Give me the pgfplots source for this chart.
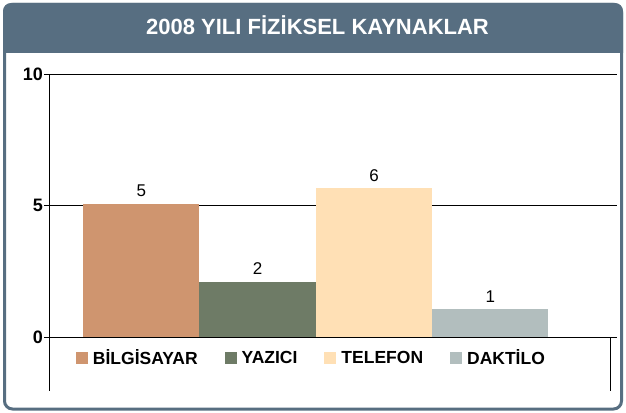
\documentclass[border=0pt]{standalone}
\usepackage{fontspec}
\setmainfont{Liberation Sans}
\usepackage{pgfplots}
\pgfplotsset{compat=1.18}
\definecolor{frame}{RGB}{87,110,129}
\definecolor{bilg}{RGB}{207,149,111}
\definecolor{yaz}{RGB}{110,123,102}
\definecolor{tel}{RGB}{255,224,181}
\definecolor{dak}{RGB}{178,190,190}
\pgfplotsset{sq legend/.style={legend image code/.code={\path[##1] (0pt,-6pt) rectangle (12pt,6pt);}}}
\begin{document}
\begin{tikzpicture}
\useasboundingbox (0pt,0pt) rectangle (626pt,-412pt);
% header band and frame
\fill[frame] (3pt,-53pt) [rounded corners=8pt] -- (3pt,-3pt) -- (623pt,-3pt) [sharp corners] -- (623pt,-53pt) -- cycle;
\draw[frame, line width=3pt, rounded corners=8pt] (4.5pt,-4.5pt) rectangle (621.5pt,-409pt);
\node[white, font=\bfseries\fontsize{22}{22}\selectfont] at (317.5pt,-25pt) {2008 YILI FİZİKSEL KAYNAKLAR};

\begin{axis}[
  at={(49pt,-337pt)}, anchor=south west,
  scale only axis, width=568pt, height=263pt,
  xmin=0, xmax=568, ymin=0, ymax=10,
  clip=false,
  axis line style={draw=none},
  xtick=\empty, ytick={0,5,10}, ytick pos=left,
  tick align=outside, major tick length=5pt,
  ytick style={black, line width=0.8pt},
  yticklabel style={font=\bfseries\fontsize{18}{18}\selectfont, inner sep=1pt},
  /pgf/number format/assume math mode=true,
  ymajorgrids, grid style={black, line width=0.9pt},
  ybar, bar width=116.3pt, bar shift=0pt,
  point meta=explicit symbolic,
  nodes near coords,
  every node near coord/.append style={font=\fontsize{17}{17}\selectfont, black, anchor=south, inner sep=0pt, yshift=7pt},
  legend columns=4,
  legend cell align=left,
  legend style={at={(axis cs:27,-0.8)}, anchor=west, draw=none, fill=none,
    inner sep=0pt, outer sep=0pt, nodes={inner sep=0pt},
    font=\bfseries\fontsize{17.5}{17.5}\selectfont,
    /tikz/every odd column/.append style={column sep=5pt},
    /tikz/every even column/.append style={column sep=27pt}},
]
\addplot[fill=bilg, draw=none, sq legend] coordinates {(92.3,5.05) [5]};
\addlegendentry{BİLGİSAYAR}
\addplot[fill=yaz, draw=none, sq legend] coordinates {(208.6,2.1) [2]};
\addlegendentry{YAZICI}
\addplot[fill=tel, draw=none, sq legend] coordinates {(325,5.65) [6]};
\addlegendentry{TELEFON}
\addplot[fill=dak, draw=none, sq legend] coordinates {(441.3,1.05) [1]};
\addlegendentry{DAKTİLO}
\end{axis}
\draw[black, line width=1pt] (49pt,-74pt) -- (49pt,-391pt);
\draw[black, line width=1pt] (610pt,-337pt) -- (610pt,-391pt);
\end{tikzpicture}
\end{document}
